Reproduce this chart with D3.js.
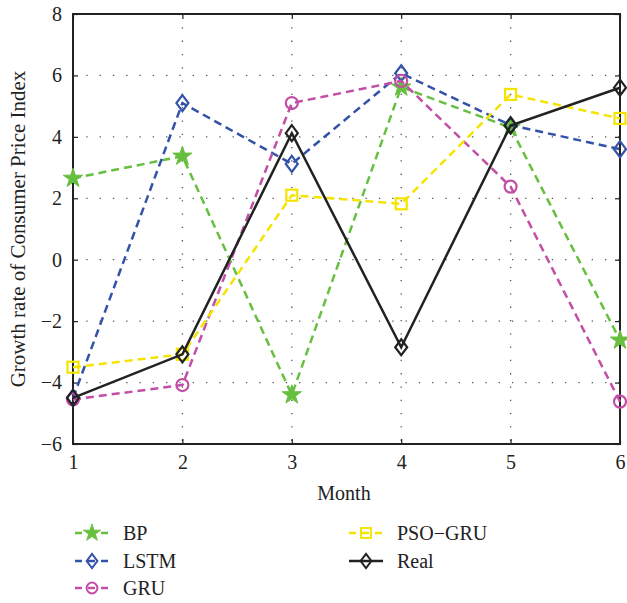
<!DOCTYPE html>
<html>
<head>
<meta charset="utf-8">
<script src="https://cdn.jsdelivr.net/npm/d3@7"></script>
<style>
  html, body { margin: 0; padding: 0; background: #fff; }
  svg { display: block; font-family: "Liberation Serif", "DejaVu Serif", serif; }
</style>
</head>
<body>
<svg id="chart" width="627" height="603"></svg>
<script>
// Monthly CPI growth rate: actual values and model forecasts
const months = [1, 2, 3, 4, 5, 6];
const bp      = [2.65, 3.37, -4.4, 5.62, 4.3, -2.62];
const lstm    = [-4.5, 5.1, 3.12, 6.07, 4.38, 3.6];
const gru     = [-4.55, -4.08, 5.1, 5.82, 2.38, -4.62];
const psoGru  = [-3.5, -3.08, 2.1, 1.82, 5.38, 4.6];
const real    = [-4.5, -3.08, 4.12, -2.85, 4.37, 5.6];
const yTicks  = [-6, -4, -2, 0, 2, 4, 6, 8];

const series = [
  { name: "BP",      values: bp,     color: "#66bf3f", symbol: "star",    dash: "8,5" },
  { name: "LSTM",    values: lstm,   color: "#3352a8", symbol: "diamond", dash: "8,5" },
  { name: "GRU",     values: gru,    color: "#c24ea6", symbol: "circle",  dash: "8,5" },
  { name: "PSO\u2212GRU", values: psoGru, color: "#f5e400", symbol: "square", dash: "8,5" },
  { name: "Real",    values: real,   color: "#222222", symbol: "diamond", dash: null }
];

const svg = d3.select("#chart");
const m = { left: 73, right: 620, top: 14, bottom: 444 };

const x = d3.scaleLinear().domain([1, 6]).range([m.left, m.right]);
const y = d3.scaleLinear().domain([-6, 8]).range([m.bottom, m.top]);

// Dotted grid
const grid = svg.append("g");
grid.selectAll("line.vx").data(months.slice(1, -1)).join("line")
  .attr("x1", d => x(d)).attr("x2", d => x(d))
  .attr("y1", m.top).attr("y2", m.bottom)
  .attr("stroke", "#555").attr("stroke-width", 1.3).attr("stroke-dasharray", "1.3,12");
grid.selectAll("line.hy").data(yTicks.slice(1, -1)).join("line")
  .attr("y1", d => y(d)).attr("y2", d => y(d))
  .attr("x1", m.left).attr("x2", m.right)
  .attr("stroke", "#555").attr("stroke-width", 1.3).attr("stroke-dasharray", "1.3,12");

// Axes with inward ticks on all four sides
const tickFont = g => g.selectAll("text")
  .attr("font-family", "Liberation Serif, DejaVu Serif, serif")
  .attr("font-size", 20).attr("fill", "#222");

svg.append("g").attr("transform", `translate(0,${m.bottom})`)
  .call(d3.axisBottom(x).tickValues(months).tickFormat(d3.format("d"))
    .tickSizeInner(-5).tickSizeOuter(0).tickPadding(11))
  .call(g => g.select(".domain").remove())
  .call(tickFont);
svg.append("g").attr("transform", `translate(0,${m.top})`)
  .call(d3.axisTop(x).tickValues(months).tickFormat("").tickSizeInner(-5).tickSizeOuter(0))
  .call(g => g.select(".domain").remove());
svg.append("g").attr("transform", `translate(${m.left},0)`)
  .call(d3.axisLeft(y).tickValues(yTicks).tickFormat(d => d < 0 ? "\u2212" + Math.abs(d) : d)
    .tickSizeInner(-5).tickSizeOuter(0).tickPadding(11))
  .call(g => g.select(".domain").remove())
  .call(tickFont);
svg.append("g").attr("transform", `translate(${m.right},0)`)
  .call(d3.axisRight(y).tickValues(yTicks).tickFormat("").tickSizeInner(-5).tickSizeOuter(0))
  .call(g => g.select(".domain").remove());
svg.selectAll(".tick line").attr("stroke", "#222").attr("stroke-width", 1.2);

// Plot frame
svg.append("rect")
  .attr("x", m.left).attr("y", m.top)
  .attr("width", m.right - m.left).attr("height", m.bottom - m.top)
  .attr("fill", "none").attr("stroke", "#222").attr("stroke-width", 2);

// Marker drawing
function marker(sel, s, cx, cy, k = 1) {
  const g = sel.append("g").attr("transform", `translate(${cx},${cy}) scale(${k})`);
  if (s.symbol === "star") {
    g.append("path").attr("d", d3.symbol(d3.symbolStar, 115)())
      .attr("fill", s.color).attr("stroke", s.color).attr("stroke-width", 1);
  } else if (s.symbol === "diamond") {
    g.append("path").attr("d", "M0,-8L6,0L0,8L-6,0Z")
      .attr("fill", "none").attr("stroke", s.color).attr("stroke-width", 2.2);
  } else if (s.symbol === "circle") {
    g.append("circle").attr("r", 6)
      .attr("fill", "none").attr("stroke", s.color).attr("stroke-width", 2.2);
  } else if (s.symbol === "square") {
    g.append("rect").attr("x", -5.5).attr("y", -5.5).attr("width", 11).attr("height", 11)
      .attr("fill", "none").attr("stroke", s.color).attr("stroke-width", 2.2);
  }
}

const line = d3.line().x((d, i) => x(months[i])).y(d => y(d));
const plot = svg.append("g");
series.forEach(s => {
  plot.append("path").datum(s.values)
    .attr("d", line)
    .attr("fill", "none").attr("stroke", s.color).attr("stroke-width", 2.5)
    .attr("stroke-dasharray", s.dash);
  s.values.forEach((v, i) => marker(plot, s, x(months[i]), y(v)));
});

// Axis titles
svg.append("text").attr("x", 344).attr("y", 500).attr("text-anchor", "middle")
  .attr("font-size", 20).attr("fill", "#222").text("Month");
svg.append("text")
  .attr("transform", `translate(25,${(m.top + m.bottom) / 2}) rotate(-90)`)
  .attr("text-anchor", "middle").attr("font-size", 21).attr("fill", "#222")
  .text("Growth rate of Consumer Price Index");

// Legend in two columns
const legendPos = [
  { x: 73, y: 533 }, { x: 73, y: 561 }, { x: 73, y: 588 },
  { x: 347, y: 533 }, { x: 347, y: 561 }
];
const legend = svg.append("g");
series.forEach((s, i) => {
  const p = legendPos[i];
  const g = legend.append("g");
  g.append("line").attr("x1", p.x + 2).attr("x2", p.x + 36)
    .attr("y1", p.y).attr("y2", p.y)
    .attr("stroke", s.color).attr("stroke-width", 2.5)
    .attr("stroke-dasharray", s.dash ? "7,6" : null);
  marker(g, s, p.x + 19, p.y, 0.9);
  g.append("text").attr("x", p.x + 50).attr("y", p.y + 7)
    .attr("font-size", 20).attr("fill", "#222").text(s.name);
});
</script>
</body>
</html>
